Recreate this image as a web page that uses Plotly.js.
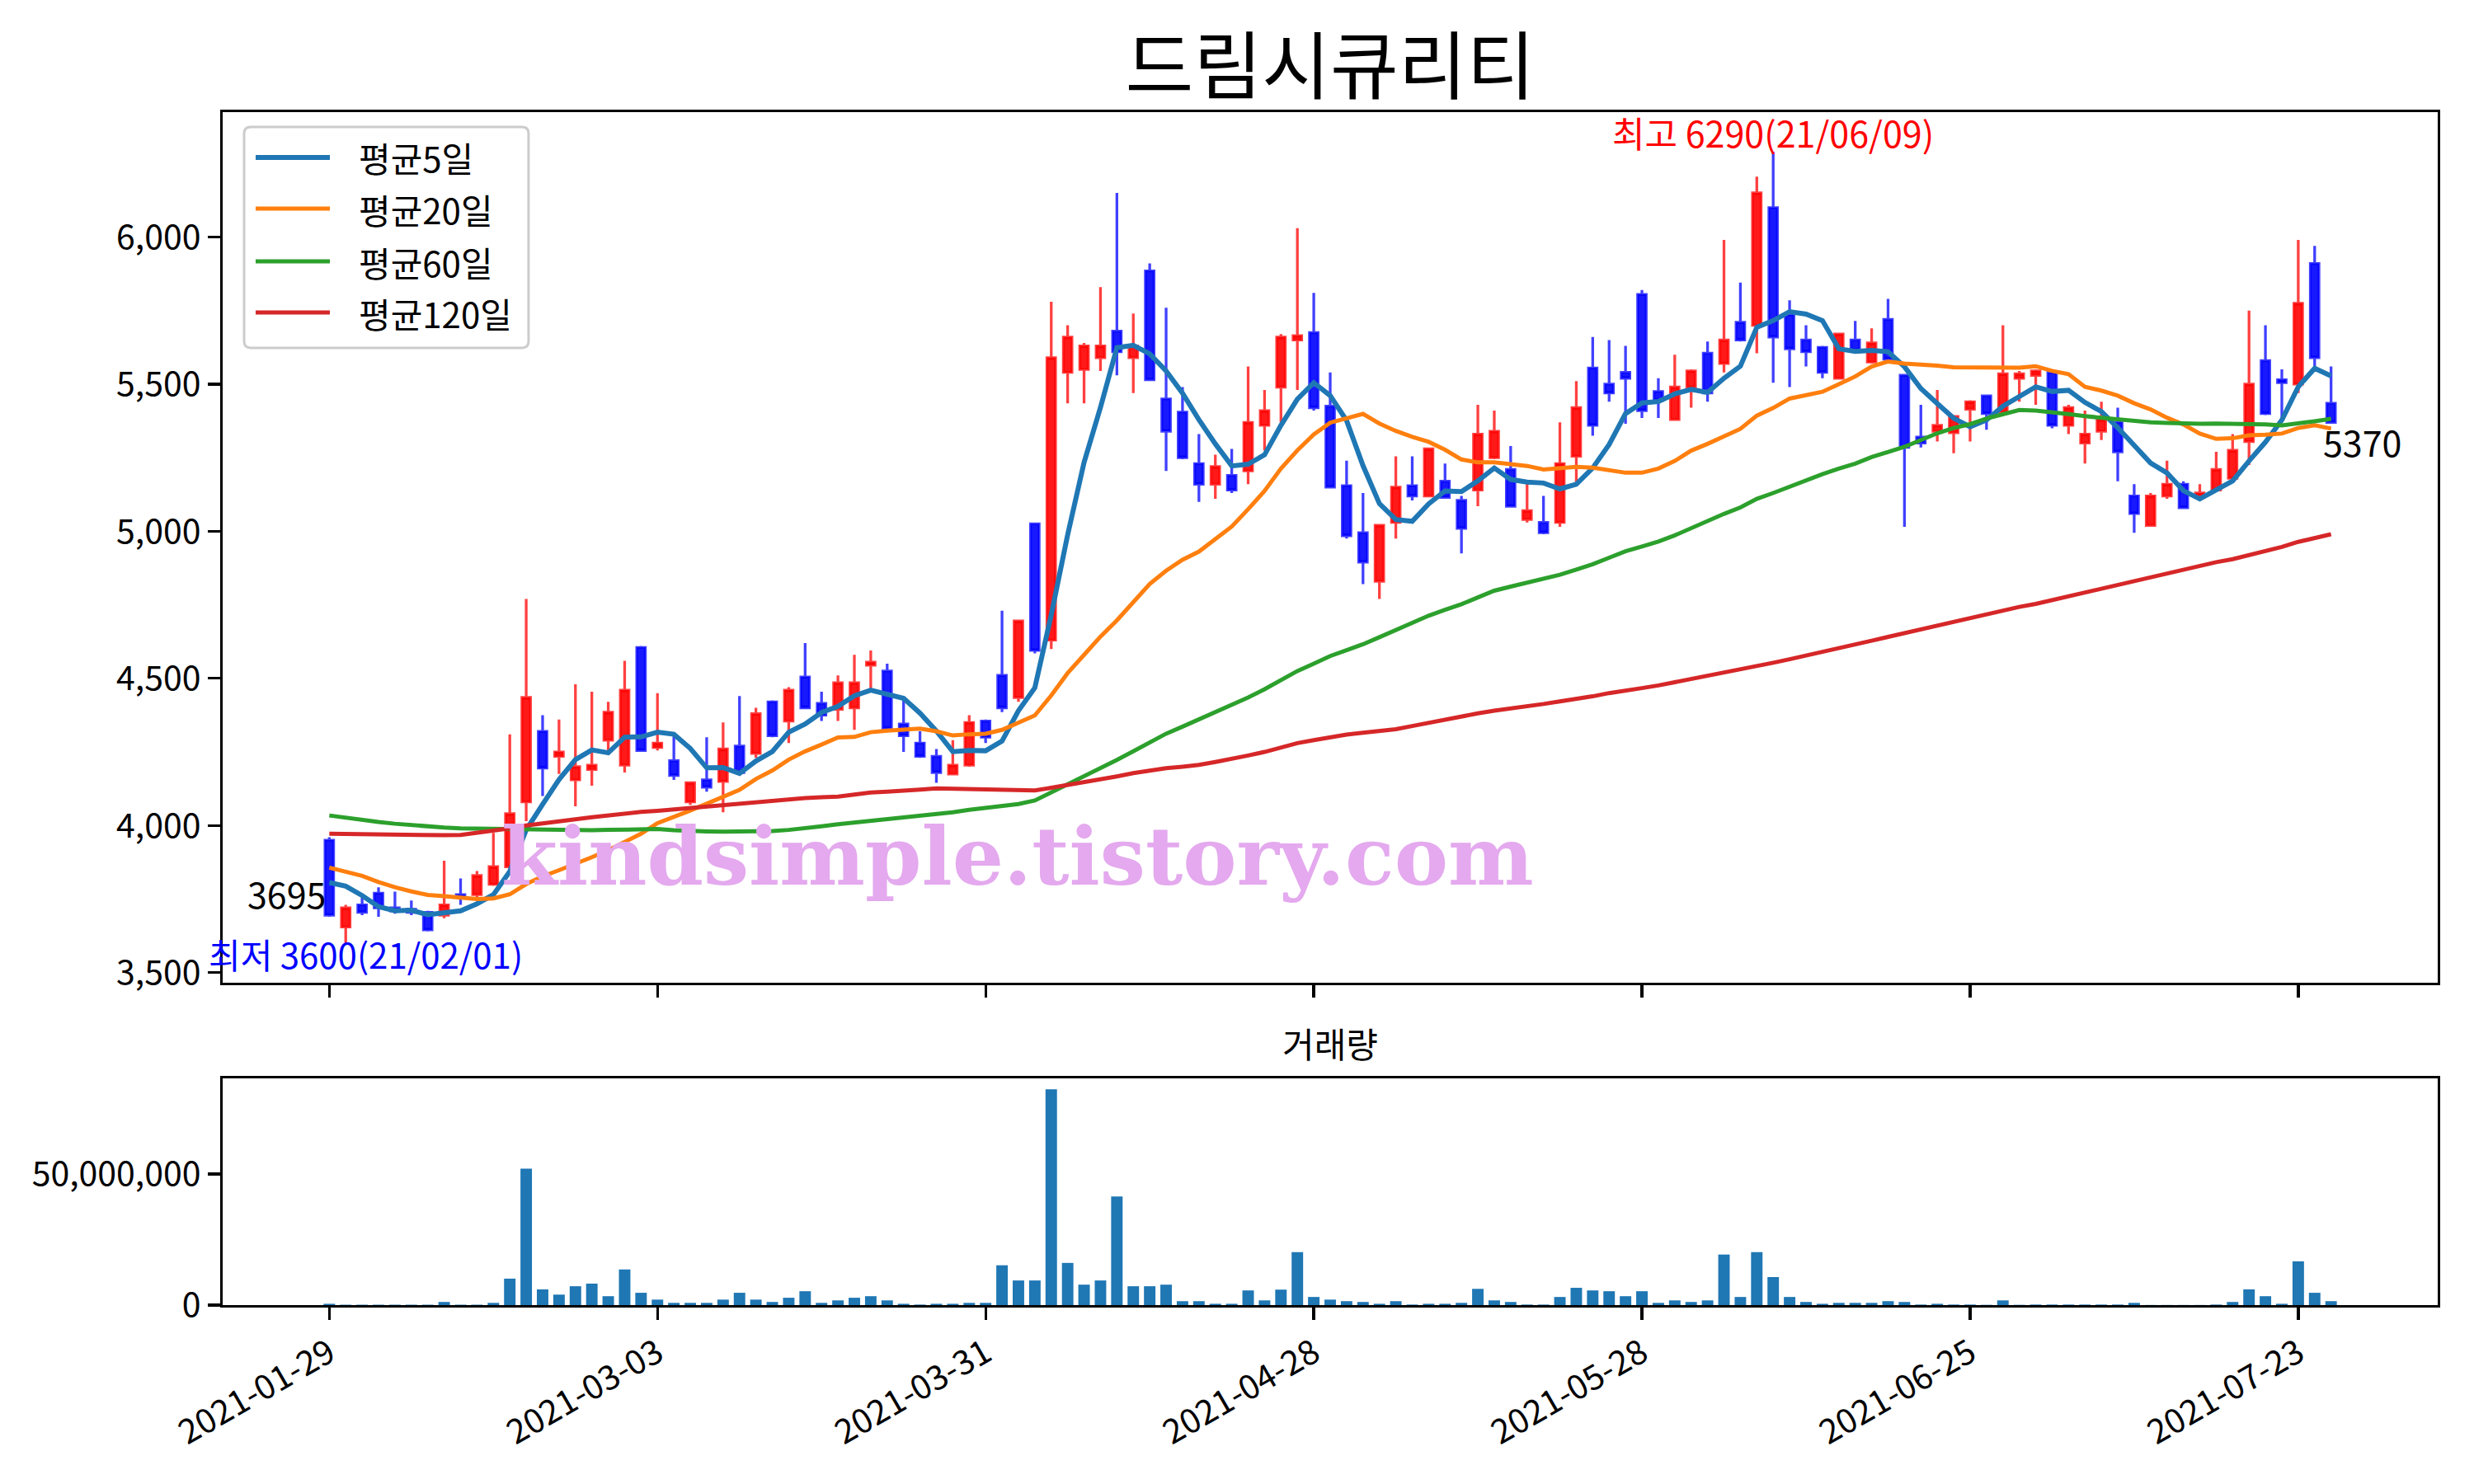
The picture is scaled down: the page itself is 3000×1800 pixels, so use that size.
<!DOCTYPE html>
<html><head><meta charset="utf-8">
<script src="https://cdn.plot.ly/plotly-3.0.1.min.js"></script>
<style>html,body{margin:0;padding:0;background:#fff}</style>
</head><body><div id="chart" style="width:3000px;height:1800px"></div>
<script>
const dates = [
'2021-01-29',
'2021-02-01','2021-02-02','2021-02-03','2021-02-04','2021-02-05',
'2021-02-08','2021-02-09','2021-02-10',
'2021-02-15','2021-02-16','2021-02-17','2021-02-18','2021-02-19',
'2021-02-22','2021-02-23','2021-02-24','2021-02-25','2021-02-26',
'2021-03-02','2021-03-03','2021-03-04','2021-03-05',
'2021-03-08','2021-03-09','2021-03-10','2021-03-11','2021-03-12',
'2021-03-15','2021-03-16','2021-03-17','2021-03-18','2021-03-19',
'2021-03-22','2021-03-23','2021-03-24','2021-03-25','2021-03-26',
'2021-03-29','2021-03-30','2021-03-31',
'2021-04-01','2021-04-02',
'2021-04-05','2021-04-06','2021-04-07','2021-04-08','2021-04-09',
'2021-04-12','2021-04-13','2021-04-14','2021-04-15','2021-04-16',
'2021-04-19','2021-04-20','2021-04-21','2021-04-22','2021-04-23',
'2021-04-26','2021-04-27','2021-04-28','2021-04-29','2021-04-30',
'2021-05-03','2021-05-04','2021-05-06','2021-05-07',
'2021-05-10','2021-05-11','2021-05-12','2021-05-13','2021-05-14',
'2021-05-17','2021-05-18','2021-05-20','2021-05-21',
'2021-05-24','2021-05-25','2021-05-26','2021-05-27','2021-05-28',
'2021-05-31',
'2021-06-01','2021-06-02','2021-06-03','2021-06-04',
'2021-06-07','2021-06-08','2021-06-09','2021-06-10','2021-06-11',
'2021-06-14','2021-06-15','2021-06-16','2021-06-17','2021-06-18',
'2021-06-21','2021-06-22','2021-06-23','2021-06-24','2021-06-25',
'2021-06-28','2021-06-29','2021-06-30',
'2021-07-01','2021-07-02',
'2021-07-05','2021-07-06','2021-07-07','2021-07-08','2021-07-09',
'2021-07-12','2021-07-13','2021-07-14','2021-07-15','2021-07-16',
'2021-07-19','2021-07-20','2021-07-21','2021-07-22','2021-07-23',
'2021-07-26','2021-07-27'
];

const openP = [
3950,3655,3730,3770,3720,3715,3705,3695,3765,3765,
3800,3860,4080,4320,4235,4155,4190,4290,4205,4605,
4265,4220,4080,4155,4150,4270,4245,4420,4355,4505,
4415,4395,4400,4545,4525,4345,4280,4235,4175,4205,
4355,4510,4435,5025,4630,5540,5550,5590,5680,5590,
5885,5450,5405,5230,5160,5190,5205,5360,5490,5650,
5675,5425,5155,4995,4830,5030,5155,5120,5170,5105,
5140,5250,5210,5040,5030,5030,5255,5555,5500,5540,
5805,5475,5380,5490,5605,5570,5710,5700,6100,5735,
5650,5625,5520,5650,5575,5720,5530,5320,5340,5335,
5415,5460,5405,5520,5530,5540,5360,5300,5340,5370,
5120,5020,5120,5160,5115,5140,5180,5305,5580,5515,
5500,5910,5435];

const highP = [
3960,3730,3755,3790,3775,3745,3710,3880,3820,3845,
3975,4310,4770,4375,4360,4480,4455,4420,4560,4610,
4450,4305,4150,4300,4350,4440,4400,4425,4470,4620,
4455,4510,4580,4595,4550,4435,4320,4260,4290,4375,
4360,4730,4700,5030,5780,5700,5640,5830,6150,5740,
5910,5760,5490,5330,5260,5280,5560,5480,5670,6030,
5810,5540,5240,5130,5020,5255,5255,5285,5230,5120,
5430,5410,5290,5165,5120,5370,5510,5660,5650,5630,
5820,5520,5600,5550,5645,5990,5845,6205,6290,5785,
5700,5630,5675,5715,5690,5790,5535,5430,5480,5395,
5445,5465,5700,5545,5550,5545,5430,5410,5440,5420,
5160,5130,5240,5170,5160,5270,5330,5750,5700,5550,
5990,5970,5560];

const lowP = [
3690,3600,3695,3690,3700,3695,3640,3685,3730,3755,
3795,3850,4015,4100,4175,4065,4135,4255,4180,4250,
4255,4155,4070,4115,4045,4175,4230,4300,4280,4395,
4355,4355,4325,4460,4325,4250,4230,4145,4170,4200,
4280,4385,4420,4585,4600,5435,5435,5545,5530,5470,
5510,5205,5245,5100,5110,5130,5160,5275,5370,5480,
5410,5150,4975,4820,4770,4975,5105,5115,5110,4925,
5085,5245,5085,5030,4990,5015,5165,5325,5440,5365,
5385,5385,5378,5420,5440,5540,5645,5605,5505,5490,
5560,5520,5515,5605,5570,5580,5015,5285,5305,5265,
5305,5345,5400,5440,5430,5350,5330,5230,5310,5170,
4995,5015,5110,5080,5105,5135,5165,5225,5395,5385,
5470,5555,5365];

const closeP = [
3695,3720,3705,3720,3710,3705,3645,3730,3760,3830,
3860,4040,4435,4195,4250,4200,4205,4385,4460,4255,
4280,4170,4145,4130,4260,4180,4380,4305,4460,4400,
4375,4485,4485,4555,4330,4305,4235,4180,4205,4350,
4300,4400,4695,4595,5590,5660,5630,5630,5610,5630,
5515,5340,5250,5160,5220,5140,5370,5410,5660,5665,
5420,5150,4985,4895,5020,5150,5120,5280,5115,5010,
5330,5340,5085,5070,4995,5230,5420,5360,5470,5520,
5410,5445,5490,5545,5470,5650,5650,6150,5660,5620,
5610,5540,5670,5615,5640,5585,5285,5300,5360,5390,
5440,5400,5535,5535,5545,5360,5420,5330,5380,5270,
5060,5120,5160,5080,5130,5210,5275,5500,5400,5505,
5775,5590,5370];

const volume = [
500000,150000,150000,150000,150000,150000,150000,1200000,150000,150000,
850000,10100000,52100000,6000000,4000000,7200000,8200000,3400000,13600000,4700000,
2100000,850000,850000,850000,2100000,4700000,2100000,1200000,2800000,5300000,
850000,1800000,2800000,3400000,1800000,500000,200000,500000,500000,850000,
850000,15200000,9400000,9400000,82400000,16100000,7800000,9400000,41500000,7200000,
7200000,7800000,1500000,1500000,500000,500000,5600000,1800000,5900000,20200000,
3100000,2100000,1500000,1200000,500000,1500000,200000,500000,500000,850000,
6200000,1800000,1200000,200000,200000,3100000,6600000,5600000,5300000,3400000,
5300000,850000,1800000,1200000,1800000,19300000,3100000,20200000,10700000,3100000,
1200000,500000,850000,850000,850000,1500000,1200000,200000,500000,200000,
200000,100000,1800000,100000,200000,200000,200000,200000,200000,200000,
850000,50000,50000,50000,50000,200000,1200000,6000000,3400000,500000,
16700000,4700000,1500000];

const ma5 = [
3806,3794,3762,3724,3710,3712,3697,3702,3710,3734,
3765,3844,3985,4072,4156,4224,4257,4247,4300,4301,
4317,4310,4262,4196,4197,4177,4219,4251,4317,4345,
4384,4405,4441,4460,4446,4432,4382,4321,4251,4255,
4254,4287,4390,4468,4716,4988,5234,5421,5624,5632,
5603,5545,5469,5379,5297,5222,5228,5260,5360,5449,
5505,5461,5376,5223,5094,5040,5034,5093,5137,5135,
5171,5215,5176,5167,5164,5144,5160,5215,5295,5400,
5436,5441,5467,5482,5472,5520,5561,5693,5716,5746,
5738,5716,5620,5611,5615,5610,5559,5485,5434,5384,
5355,5378,5425,5460,5491,5475,5479,5438,5407,5352,
5292,5232,5198,5138,5110,5140,5171,5239,5303,5378,
5491,5554,5528];

const ma20 = [
3857,3844,3829,3808,3790,3776,3764,3760,3754,3750,
3752,3766,3801,3827,3848,3869,3892,3916,3944,3972,
4008,4028,4051,4074,4098,4121,4158,4187,4224,4252,
4275,4299,4301,4317,4322,4327,4329,4320,4306,4310,
4312,4325,4350,4374,4442,4518,4580,4642,4697,4759,
4821,4866,4903,4931,4972,5016,5075,5137,5213,5275,
5329,5369,5384,5399,5366,5341,5321,5304,5277,5244,
5234,5234,5228,5222,5210,5216,5219,5216,5208,5199,
5199,5213,5239,5274,5297,5323,5348,5393,5419,5451,
5462,5474,5500,5526,5560,5577,5570,5567,5563,5557,
5557,5554,5556,5556,5561,5545,5534,5491,5478,5461,
5435,5414,5386,5363,5332,5314,5316,5326,5328,5332,
5351,5360,5349];

const ma60 = [
4034,4026,4018,4012,4006,4001,3997,3993,3990,3989,
3988,3987,3986,3986,3986,3985,3984,3985,3986,3987,
3988,3984,3981,3980,3979,3979,3980,3981,3985,3990,
3997,4004,4010,4016,4022,4028,4032,4037,4045,4053,
4060,4064,4073,4085,4112,4140,4167,4195,4223,4252,
4282,4312,4336,4360,4384,4408,4435,4463,4494,4525,
4550,4576,4596,4616,4640,4665,4689,4713,4733,4752,
4775,4798,4812,4825,4838,4852,4870,4888,4910,4932,
4948,4965,4986,5011,5033,5059,5081,5110,5130,5151,
5175,5194,5213,5230,5252,5271,5287,5310,5333,5351,
5364,5383,5398,5412,5410,5405,5398,5391,5386,5382,
5374,5370,5368,5366,5365,5366,5366,5366,5363,5360,
5366,5374,5382];

const ma120 = [
3972,3971,3970,3970,3969,3968,3967,3967,3968,3975,
3981,3990,4000,4006,4014,4021,4028,4034,4042,4046,
4050,4055,4060,4065,4070,4074,4080,4085,4090,4093,
4096,4098,4105,4112,4115,4117,4122,4126,4125,4124,
4122,4120,4119,4119,4128,4137,4146,4156,4167,4178,
4187,4195,4200,4206,4216,4226,4238,4250,4265,4280,
4290,4300,4309,4315,4321,4327,4338,4349,4361,4372,
4381,4390,4397,4404,4413,4422,4430,4439,4450,4460,
4467,4476,4487,4497,4506,4517,4528,4540,4553,4565,
4577,4590,4602,4615,4628,4641,4654,4667,4679,4692,
4705,4718,4733,4743,4753,4766,4779,4793,4807,4820,
4833,4846,4859,4871,4884,4895,4905,4918,4931,4947,
4964,4977,4990];

const tickDates = ['2021-01-29','2021-03-03','2021-03-31','2021-04-28','2021-05-28','2021-06-25','2021-07-23'];
const priceTicks = [3500,4000,4500,5000,5500,6000];
const volumeTicks = [0,50000000];
const maNames = ['평균5일','평균20일','평균60일','평균120일'];
const maColors = ['#1f77b4','#ff7f0e','#2ca02c','#d62728'];
const chartTitle = '드림시큐리티';
const volumeTitle = '거래량';
const watermark = 'kindsimple.tistory.com';

const FONT = '"Noto Sans CJK KR", "Noto Sans", sans-serif';
const FS = 42;

const candle = {
  type: 'candlestick', x: dates, open: openP, high: highP, low: lowP, close: closeP,
  xaxis: 'x', yaxis: 'y', showlegend: false, hoverinfo: 'skip',
  increasing: {line: {color: 'rgba(255,0,0,0.75)', width: 3.3}, fillcolor: 'rgba(255,0,0,0.9)'},
  decreasing: {line: {color: 'rgba(0,0,255,0.75)', width: 3.3}, fillcolor: 'rgba(0,0,255,0.9)'},
  whiskerwidth: 0
};
const maSeries = [ma5, ma20, ma60, ma120];
const maWidths = [6, 5, 5, 5];
const maTraces = maSeries.map((s, k) => ({
  type: 'scatter', mode: 'lines', x: dates, y: s, name: maNames[k], showlegend: false,
  xaxis: 'x', yaxis: 'y', line: {color: maColors[k], width: maWidths[k]}, hoverinfo: 'skip'
}));
const volTrace = {
  type: 'bar', x: dates, y: volume, xaxis: 'x2', yaxis: 'y2', showlegend: false,
  marker: {color: '#1f77b4', line: {width: 0}}, width: 0.7, hoverinfo: 'skip'
};

// extreme annotations computed from the data
let hiIdx = 0, loIdx = 0;
highP.forEach((v, i) => { if (v > highP[hiIdx]) hiIdx = i; });
lowP.forEach((v, i) => { if (v < lowP[loIdx]) loIdx = i; });
const shortDate = d => d.slice(2).replace(/-/g, '/');
const last = closeP.length - 1;

// legend box drawn like matplotlib's (paper coordinates of the plot area)
const LB = {x0: 0.00968, x1: 0.1381, y0: 0.8024, y1: 0.9876, rx: 0.0030, ry: 0.0055};
const legendPath =
  `M${LB.x0+LB.rx},${LB.y1} L${LB.x1-LB.rx},${LB.y1} Q${LB.x1},${LB.y1} ${LB.x1},${LB.y1-LB.ry} ` +
  `L${LB.x1},${LB.y0+LB.ry} Q${LB.x1},${LB.y0} ${LB.x1-LB.rx},${LB.y0} ` +
  `L${LB.x0+LB.rx},${LB.y0} Q${LB.x0},${LB.y0} ${LB.x0},${LB.y0+LB.ry} ` +
  `L${LB.x0},${LB.y1-LB.ry} Q${LB.x0},${LB.y1} ${LB.x0+LB.rx},${LB.y1} Z`;
const legendRows = [0.9620, 0.9191, 0.8749, 0.8320];
const legendShapes = [{type: 'path', xref: 'paper', yref: 'paper', path: legendPath, layer: 'above',
  fillcolor: 'rgba(255,255,255,0.8)', line: {color: '#cccccc', width: 3}}]
  .concat(maNames.map((n, k) => ({type: 'line', xref: 'paper', yref: 'paper', layer: 'above',
    x0: 0.01489, x1: 0.0484, y0: legendRows[k], y1: legendRows[k],
    line: {color: maColors[k], width: maWidths[k]}})));
const legendTexts = maNames.map((n, k) => ({xref: 'paper', yref: 'paper', x: 0.0607, y: legendRows[k],
  text: n, showarrow: false, xanchor: 'left', yanchor: 'middle',
  font: {family: FONT, size: FS, color: '#000'}}));

const xRange = [-6.5, 128.5];
const axisCommon = {
  showline: true, mirror: true, linecolor: '#000', linewidth: 3.3,
  ticks: 'outside', ticklen: 15, tickwidth: 3.3, tickcolor: '#000',
  showgrid: false, zeroline: false, tickfont: {family: FONT, size: 41, color: '#000'}
};

const layout = {
  width: 3000, height: 1800,
  margin: {l: 270, r: 44, t: 136, b: 217, pad: 0},
  paper_bgcolor: '#fff', plot_bgcolor: '#fff',
  font: {family: FONT, size: FS, color: '#000'},
  title: {text: chartTitle, font: {family: FONT, size: 90, color: '#000'},
          x: 0.5, xref: 'paper', xanchor: 'center', y: 0.955, yref: 'container', yanchor: 'middle'},
  boxgap: 0.25,
  bargap: 0.3,
  showlegend: false,
  xaxis: Object.assign({}, axisCommon, {
    domain: [0, 1], anchor: 'y', type: 'category', range: xRange,
    tickmode: 'array', tickvals: tickDates, showticklabels: false,
    rangeslider: {visible: false}
  }),
  yaxis: Object.assign({}, axisCommon, {
    domain: [0.2702, 1], anchor: 'x', range: [3465.5, 6424.5],
    tickmode: 'array', tickvals: priceTicks, tickformat: ',d', ticklabelstandoff: 0
  }),
  xaxis2: Object.assign({}, axisCommon, {
    domain: [0, 1], anchor: 'y2', type: 'category', range: xRange,
    tickmode: 'array', tickvals: tickDates, ticktext: tickDates, tickangle: -30
  }),
  yaxis2: Object.assign({}, axisCommon, {
    domain: [0, 0.19], anchor: 'x2', range: [0, 86520000],
    tickmode: 'array', tickvals: volumeTicks, tickformat: ',d', ticklabelstandoff: 0
  }),
  shapes: legendShapes,
  annotations: [
    {xref: 'x', yref: 'y', x: dates[hiIdx], y: highP[hiIdx], showarrow: false, yshift: -9,
     text: '최고 ' + highP[hiIdx] + '(' + shortDate(dates[hiIdx]) + ')',
     xanchor: 'center', yanchor: 'bottom', font: {family: FONT, size: 43, color: 'red'}},
    {xref: 'x', yref: 'y', x: dates[loIdx], y: lowP[loIdx], showarrow: false, yshift: 20, xshift: 24,
     text: '최저 ' + lowP[loIdx] + '(' + shortDate(dates[loIdx]) + ')',
     xanchor: 'center', yanchor: 'top', font: {family: FONT, size: 42, color: 'blue'}},
    {xref: 'x', yref: 'y', x: dates[0], y: closeP[0], showarrow: false,
     text: String(closeP[0]), xanchor: 'right', yanchor: 'bottom', yshift: -6, xshift: -2,
     font: {family: FONT, size: 43, color: '#000'}},
    {xref: 'x', yref: 'y', x: dates[last], y: closeP[last], showarrow: false,
     text: String(closeP[last]), xanchor: 'left', yanchor: 'top', xshift: -12, yshift: 10,
     font: {family: FONT, size: 43, color: '#000'}},
    {xref: 'paper', yref: 'paper', x: 0.5, y: 0.2198, showarrow: false,
     text: volumeTitle, xanchor: 'center', yanchor: 'middle',
     font: {family: FONT, size: FS, color: '#000'}},
    {xref: 'paper', yref: 'paper', x: 0.3589, y: 0.376, showarrow: false,
     text: watermark, xanchor: 'center', yanchor: 'middle',
     font: {family: '"DejaVu Serif", "Liberation Serif", serif', size: 98, weight: 'bold', color: '#e4a9ee'}}
  ].concat(legendTexts)
};

Plotly.newPlot('chart', [candle].concat(maTraces).concat([volTrace]), layout, {staticPlot: true, displayModeBar: false});
</script></body></html>
